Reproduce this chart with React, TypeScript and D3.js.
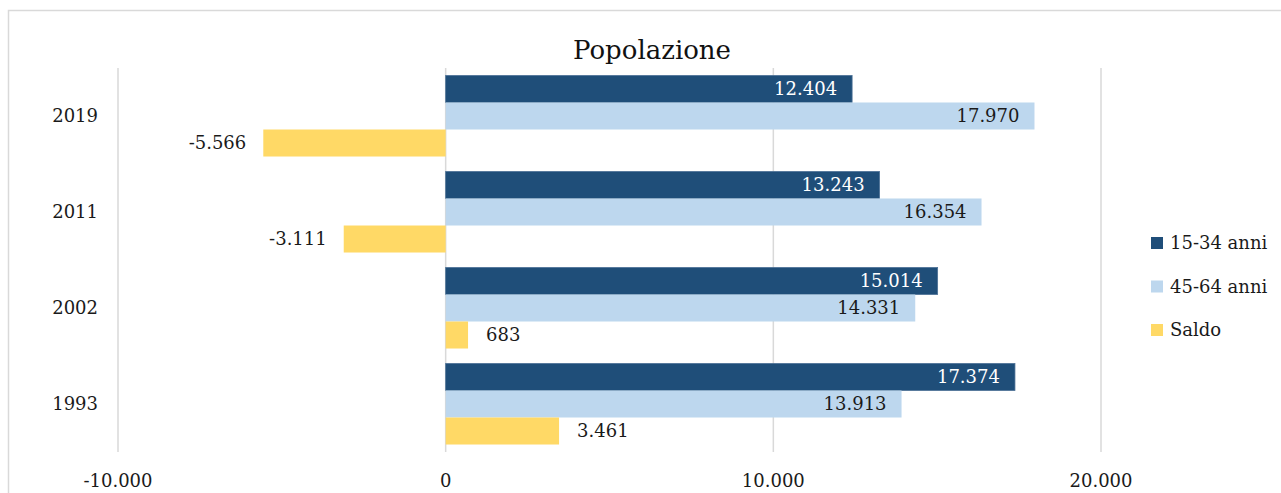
import React from 'react';
import * as d3 from 'd3';

const years = ['2019', '2011', '2002', '1993'];
const seriesNames = ['15-34 anni', '45-64 anni', 'Saldo'];
const giovani = [12404, 13243, 15014, 17374];
const anziani = [17970, 16354, 14331, 13913];
const saldo = [-5566, -3111, 683, 3461];
const xTicks = [-10000, 0, 10000, 20000];

const colors = ['#1F4E79', '#BDD7EE', '#FFD966'];
const labelColors = ['#ffffff', '#1a1a1a', '#1a1a1a'];
const FONT = "'DejaVu Serif'";
const FS = 18;

const fmt = (v: number) => {
  const s = Math.abs(v).toString().replace(/\B(?=(\d{3})+(?!\d))/g, '.');
  return (v < 0 ? '-' : '') + s;
};

export default function App() {
  const W = 1281;
  const H = 493;

  const x = d3.scaleLinear().domain([-10000, 20000]).range([118, 1101]);
  const y = d3.scaleBand<string>().domain(years).range([68, 452]).paddingInner(0.156).paddingOuter(0.078);
  const sub = d3.scaleBand<string>().domain(seriesNames).range([0, y.bandwidth()]);

  const seriesValues = [giovani, anziani, saldo];

  const bars: React.ReactNode[] = [];
  const labels: React.ReactNode[] = [];
  seriesValues.forEach((vals, si) => {
    vals.forEach((v, i) => {
      const yy = (y(years[i]) || 0) + (sub(seriesNames[si]) || 0);
      const x0 = x(Math.min(0, v));
      const x1 = x(Math.max(0, v));
      bars.push(
        <rect key={`b${si}-${i}`} x={x0} y={yy} width={x1 - x0} height={sub.bandwidth()}
          fill={colors[si]} stroke={si === 0 ? '#4d7196' : 'none'} strokeWidth={si === 0 ? 0.8 : 0} />
      );
      const cy = yy + sub.bandwidth() / 2;
      let lx: number;
      let anchor: 'start' | 'end';
      if (si < 2) {
        lx = x(v) - 15;
        anchor = 'end';
      } else if (v >= 0) {
        lx = x(v) + 18;
        anchor = 'start';
      } else {
        lx = x(v) - 17;
        anchor = 'end';
      }
      labels.push(
        <text key={`l${si}-${i}`} x={lx} y={cy} dy="0.35em" textAnchor={anchor}
          fill={labelColors[si]} fontSize={FS}>{fmt(v)}</text>
      );
    });
  });

  return (
    <div style={{ position: 'absolute', left: 0, top: 0 }}>
      <svg width={W} height={H} style={{ display: 'block', fontFamily: FONT }}>
        <rect x={0} y={0} width={W} height={H} fill="#ffffff" />
        <rect x={8.5} y={10.5} width={1300} height={520} fill="#ffffff" stroke="#d9d9d9" strokeWidth={1.5} />
        <text x={652} y={59} textAnchor="middle" fontSize={26} fill="#111">Popolazione</text>

        {xTicks.map(t => (
          <g key={`t${t}`}>
            <line x1={x(t)} x2={x(t)} y1={68} y2={452} stroke="#d9d9d9" strokeWidth={1.5} />
            <text x={x(t)} y={487} textAnchor="middle" fontSize={FS} fill="#1a1a1a">{fmt(t)}</text>
          </g>
        ))}

        {years.map(yr => (
          <text key={yr} x={98} y={(y(yr) || 0) + y.bandwidth() / 2} dy="0.35em" textAnchor="end"
            fontSize={FS} fill="#1a1a1a">{yr}</text>
        ))}

        {bars}
        {labels}

        {seriesNames.map((s, i) => {
          const cy = 243 + i * 43.5;
          return (
            <g key={s}>
              <rect x={1151} y={cy - 6} width={12} height={12} fill={colors[i]} />
              <text x={1170} y={cy} dy="0.35em" fontSize={FS} fill="#1a1a1a">{s}</text>
            </g>
          );
        })}
      </svg>
    </div>
  );
}
